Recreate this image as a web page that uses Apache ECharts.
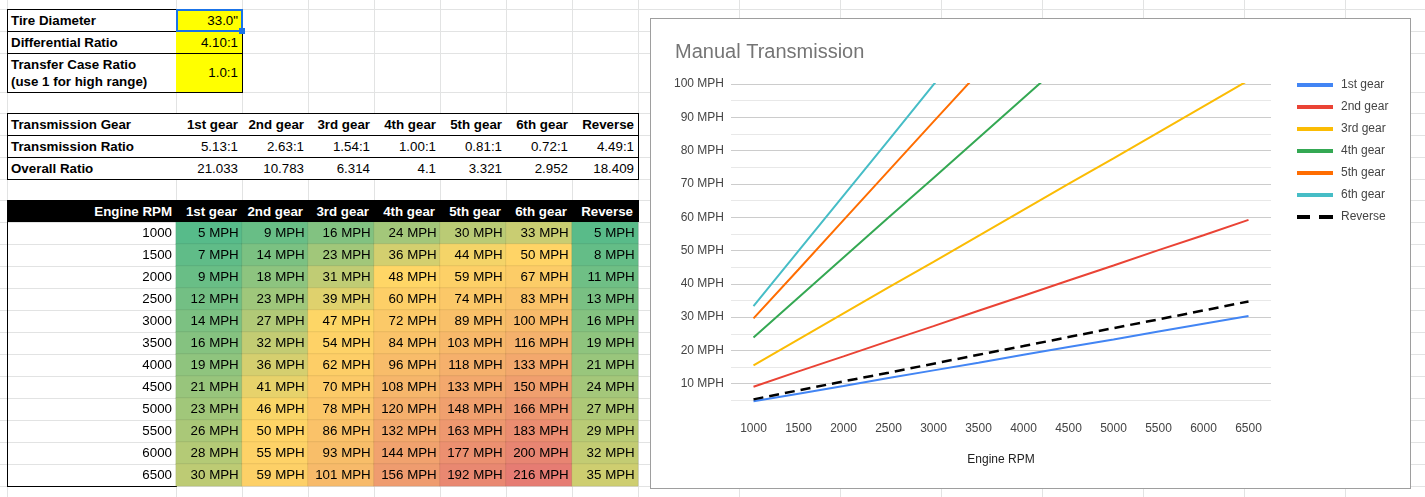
<!DOCTYPE html>
<html>
<head>
<meta charset="utf-8">
<script src="https://cdn.jsdelivr.net/npm/echarts@6/dist/echarts.min.js"></script>
<style>
  body { margin: 0; background: #fff; }
  #sheet { position: relative; width: 1425px; height: 497px; overflow: hidden;
    font-family: Arial, "Liberation Sans", sans-serif; font-size: 13.33px; color: #000; }
  .c { position: absolute; box-sizing: border-box; display: flex; align-items: center;
    white-space: nowrap; }
  .l { justify-content: flex-start; padding-left: 4px; }
  .r { justify-content: flex-end; padding-right: 4px; }
  .b { font-weight: bold; }
</style>
</head>
<body>
<div id="sheet"></div>
<script>
var rpm = ['1000', '1500', '2000', '2500', '3000', '3500', '4000', '4500', '5000', '5500', '6000', '6500'];
var gears = ['1st gear', '2nd gear', '3rd gear', '4th gear', '5th gear', '6th gear', 'Reverse'];
var transRatio = ['5.13:1', '2.63:1', '1.54:1', '1.00:1', '0.81:1', '0.72:1', '4.49:1'];
var overallRatio = ['21.033', '10.783', '6.314', '4.1', '3.321', '2.952', '18.409'];
var inputLabels = ['Tire Diameter', 'Differential Ratio', 'Transfer Case Ratio<br>(use 1 for high range)'];
var inputValues = ['33.0"', '4.10:1', '1.0:1'];

// speeds in MPH (the sheet shows them rounded, the chart unrounded)
var mph1st = [4.7, 7.0, 9.3, 11.7, 14.0, 16.3, 18.7, 21.0, 23.3, 25.7, 28.0, 30.3];
var mph2nd = [9.1, 13.7, 18.2, 22.8, 27.3, 31.9, 36.4, 41.0, 45.5, 50.1, 54.6, 59.2];
var mph3rd = [15.5, 23.3, 31.1, 38.9, 46.6, 54.4, 62.2, 70.0, 77.7, 85.5, 93.3, 101.1];
var mph4th = [23.9, 35.9, 47.9, 59.9, 71.8, 83.8, 95.8, 107.8, 119.7, 131.7, 143.7, 155.6];
var mph5th = [29.6, 44.3, 59.1, 73.9, 88.7, 103.4, 118.2, 133.0, 147.8, 162.6, 177.4, 192.2];
var mph6th = [33.3, 49.9, 66.5, 83.1, 99.8, 116.4, 133.0, 149.7, 166.3, 182.9, 199.5, 216.2];
var mphRev = [5.3, 8.0, 10.7, 13.3, 16.0, 18.7, 21.3, 24.0, 26.7, 29.3, 32.0, 34.7];
var speeds = [mph1st, mph2nd, mph3rd, mph4th, mph5th, mph6th, mphRev];

var lineColors = ['#4285f4', '#ea4335', '#fbbc04', '#34a853', '#ff6d01', '#46bdc6', '#000000'];

// ---- spreadsheet background ----
var sheet = document.getElementById('sheet');
function box(x, y, w, h, cls, css, html) {
  var d = document.createElement('div');
  d.className = cls || '';
  d.style.cssText = 'position:absolute;left:' + x + 'px;top:' + y + 'px;width:' + w + 'px;height:' + h + 'px;' + (css || '');
  if (html != null) d.innerHTML = html;
  sheet.appendChild(d);
  return d;
}
function hline(x1, x2, y, color) { box(x1, y, x2 - x1 + 1, 1, '', 'background:' + color); }
function vline(x, y1, y2, color) { box(x, y1, 1, y2 - y1 + 1, '', 'background:' + color); }

var rowLines = [9, 31, 53, 92, 113, 135, 157, 179, 200, 222, 244, 266, 288, 310, 332, 354, 376, 398, 420, 442, 464, 486];
var colLines = [7, 176, 242, 308, 374, 440, 506, 572, 638, 739, 840, 941, 1042, 1143, 1244, 1345];
rowLines.forEach(function (y) { hline(0, 1425, y, '#e2e3e3'); });
colLines.forEach(function (x) { vline(x, 0, 497, '#e2e3e3'); });

// input table
var rowTops = [9, 31, 53], rowH = [22, 22, 39];
inputLabels.forEach(function (t, i) {
  box(7, rowTops[i], 169, rowH[i], 'c l b', 'background:#fff;line-height:17px', t);
  box(176, rowTops[i], 66, rowH[i], 'c r', 'background:#ffff00', inputValues[i]);
});
[9, 31, 53, 92].forEach(function (y) { hline(7, 242, y, '#000'); });
vline(7, 9, 92, '#000'); vline(242, 9, 92, '#000');
box(176, 9, 67, 23, '', 'border:2px solid #1a73e8;box-sizing:border-box');
box(239, 28, 6, 6, '', 'background:#1a73e8');

// ratio table
var t2rows = [['Transmission Gear', gears, true], ['Transmission Ratio', transRatio, false], ['Overall Ratio', overallRatio, false]];
var t2top = [113, 135, 157], t2h = [22, 22, 22];
t2rows.forEach(function (row, i) {
  box(7, t2top[i], 169, t2h[i], 'c l b', 'background:#fff', row[0]);
  row[1].forEach(function (v, j) {
    box(176 + 66 * j, t2top[i], 66, t2h[i], 'c r' + (row[2] ? ' b' : ''), 'background:#fff', v);
  });
});
[113, 135, 157, 179].forEach(function (y) { hline(7, 638, y, '#000'); });
vline(7, 113, 179, '#000'); vline(638, 113, 179, '#000');

// speed table header
box(7, 200, 632, 22, '', 'background:#000');
box(7, 200, 169, 22, 'c r b', 'color:#fff', 'Engine RPM');
gears.forEach(function (g, j) { box(176 + 66 * j, 200, 66, 22, 'c r b', 'color:#fff;padding-right:5px', g); });
vline(7, 200, 486, '#000'); hline(7, 176, 486, '#000');

// ---- speed heat table ----
var heatEl = box(7, 222, 632, 265, '', '');
var heatData = [];
speeds.forEach(function (arr, g) {
  arr.forEach(function (v, r) { heatData.push([g, r, v]); });
});
var heat = echarts.init(heatEl);
heat.setOption({
  animation: false,
  textStyle: { fontFamily: 'Arial, "Liberation Sans", sans-serif' },
  grid: { left: 169, top: 0, width: 462, height: 264 },
  xAxis: { type: 'category', data: gears, show: false },
  yAxis: {
    type: 'category', data: rpm, inverse: true,
    axisLine: { show: false }, axisTick: { show: false }, splitLine: { show: false },
    axisLabel: { color: '#000', fontSize: 13.33, margin: 4 }
  },
  visualMap: {
    show: false, type: 'continuous', dimension: 2, min: 4.7, max: 216.2,
    inRange: { color: ['#57bb8a', '#ffd666', '#f9c069', '#f3a96d', '#ec9270', '#e67c73'] }
  },
  series: [{
    type: 'heatmap',
    data: heatData,
    itemStyle: { borderColor: 'rgba(0,0,0,0.07)', borderWidth: 1 },
    label: {
      show: true, position: 'insideRight', distance: 4,
      color: '#000', fontSize: 13.33,
      formatter: function (p) { return Math.round(p.value[2]) + ' MPH'; }
    },
    emphasis: { disabled: true }
  }]
});

// ---- line chart ----
var chartEl = box(650, 18, 761, 471, '', 'border:1px solid #9e9e9e;box-sizing:border-box;background:#fff');
var chart = echarts.init(chartEl);
chart.setOption({
  animation: false,
  textStyle: { fontFamily: 'Arial, "Liberation Sans", sans-serif' },
  title: {
    text: 'Manual Transmission', left: 19, top: 18,
    textStyle: { fontSize: 20, fontWeight: 'normal', color: '#757575' }
  },
  legend: {
    orient: 'vertical', left: 641, top: 55,
    itemWidth: 36, itemHeight: 4, itemGap: 10,
    icon: 'rect',
    textStyle: { fontSize: 12, color: '#444', padding: [0, 0, 0, 3] },
    data: gears.map(function (g) {
      return g === 'Reverse' ? { name: g, icon: 'path://M0,0L13,0L13,4L0,4Z M22,0L36,0L36,4L22,4Z' } : g;
    })
  },
  grid: { left: 80, top: 65, width: 540, height: 333 },
  xAxis: {
    type: 'category', data: rpm, boundaryGap: true,
    name: 'Engine RPM', nameLocation: 'middle', nameGap: 37,
    nameTextStyle: { fontSize: 12, color: '#222' },
    axisLine: { show: false }, axisTick: { show: false },
    axisLabel: { fontSize: 12, color: '#444', margin: 6 }
  },
  yAxis: {
    type: 'value', min: 0, max: 100, interval: 10,
    axisLine: { show: false }, axisTick: { show: false },
    axisLabel: {
      fontSize: 12, color: '#444', margin: 7,
      formatter: function (v) { return v === 0 ? '' : v + ' MPH'; }
    },
    splitLine: { show: true, showMinLine: false, lineStyle: { color: '#cccccc' } },
    minorTick: { show: false, splitNumber: 2 },
    minorSplitLine: { show: true, lineStyle: { color: '#e8e8e8' } }
  },
  series: speeds.map(function (arr, i) {
    return {
      name: gears[i], type: 'line', data: arr, symbol: 'none',
      color: lineColors[i],
      lineStyle: { width: i === 6 ? 2.5 : 2, color: lineColors[i], type: i === 6 ? [10, 6] : 'solid' }
    };
  })
});
</script>
</body>
</html>
